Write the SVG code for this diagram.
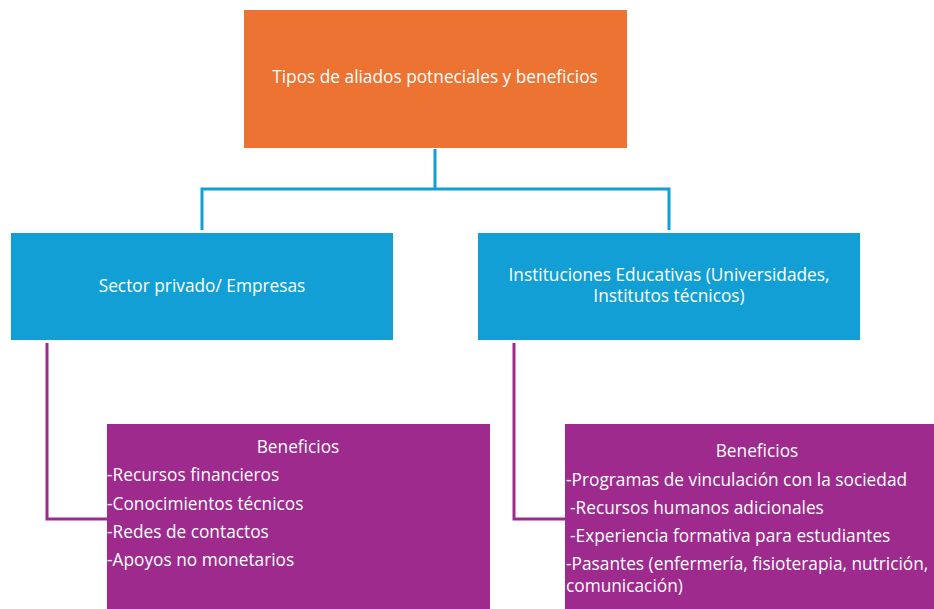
<svg xmlns="http://www.w3.org/2000/svg" width="934" height="609" viewBox="0 0 934 609">
<style>
text{font-family:"Open Sans","Liberation Sans",Arial,sans-serif;font-size:17.3px;fill:#fff}
.c{text-anchor:middle}
.blue{fill:#119FD6}
.org{fill:#ED7332}
.pur{fill:#9E2A8E}
.lb{fill:none;stroke:#119FD6;stroke-width:3}
.lp{fill:none;stroke:#9E2A8E;stroke-width:3}
</style>
<rect width="934" height="609" fill="#fff"/>
<g id="connectors">
<path class="lb" d="M435 149V189M202 230V189H669V230"/>
<path class="lp" d="M47 343V519H107"/>
<path class="lp" d="M514 343V519H565"/>
</g>
<g id="root">
<rect class="org" x="244" y="10" width="383" height="138"/>
<text class="c" x="435" y="83">Tipos de aliados potneciales y beneficios</text>
</g>
<g id="privado">
<rect class="blue" x="11" y="233" width="382" height="107"/>
<text class="c" x="202" y="292">Sector privado/ Empresas</text>
</g>
<g id="educativas">
<rect class="blue" x="478" y="233" width="382" height="107"/>
<text class="c" x="669" y="281">Instituciones Educativas (Universidades,</text>
<text class="c" x="669" y="302">Institutos técnicos)</text>
</g>
<g id="ben-privado">
<rect class="pur" x="107" y="424" width="383" height="185"/>
<text class="c" x="298" y="453">Beneficios</text>
<text x="107" y="481">-Recursos financieros</text>
<text x="107" y="510">-Conocimientos técnicos</text>
<text x="107" y="538">-Redes de contactos</text>
<text x="107" y="566">-Apoyos no monetarios</text>
</g>
<g id="ben-educativas">
<rect class="pur" x="565" y="424" width="369" height="185"/>
<text class="c" x="757" y="457">Beneficios</text>
<text x="566" y="486">-Programas de vinculación con la sociedad</text>
<text x="570" y="514">-Recursos humanos adicionales</text>
<text x="570" y="542">-Experiencia formativa para estudiantes</text>
<text x="566" y="570">-Pasantes (enfermería, fisioterapia, nutrición,</text>
<text x="566" y="592">comunicación)</text>
</g>
</svg>
